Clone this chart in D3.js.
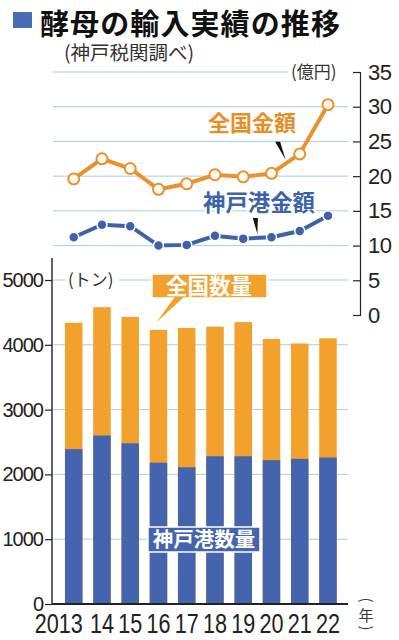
<!DOCTYPE html>
<html>
<head>
<meta charset="utf-8">
<script src="https://cdn.jsdelivr.net/npm/d3@7"></script>
<style>
    html, body { margin: 0; padding: 0; background: #fff; }
    svg { display: block; }
</style>
</head>
<body>
<svg id="chart"></svg>
<script>

const years = ['2013', '14', '15', '16', '17', '18', '19', '20', '21', '22']
const nationalAmount = [19.6, 22.5, 21.1, 18.1, 18.9, 20.2, 19.9, 20.4, 23.2, 30.3]
const kobeAmount = [11.2, 13.0, 12.8, 10.0, 10.1, 11.4, 11.0, 11.2, 12.1, 14.3]
const nationalQty = [4340, 4580, 4430, 4230, 4260, 4280, 4350, 4090, 4020, 4100]
const kobeQty = [2390, 2600, 2480, 2180, 2110, 2280, 2280, 2220, 2240, 2260]
const qtyTicks = [0, 1000, 2000, 3000, 4000, 5000]
const amountTicks = [0, 5, 10, 15, 20, 25, 30, 35]

const fullWidth = 399
const fullHeight = 640
const orange = '#f1a12c'
const orangeLine = '#e8912d'
const orangeText = '#e88d26'
const blue = '#4464ad'
const blueLine = '#3e62a9'
const gridColor = '#a6cfe0'
const jp = '"Noto Sans CJK JP", sans-serif'
const num = 'Liberation Sans, Arial, sans-serif'

const left = 52
const right = 360
const gridEnd = 348

const svg = d3.select('#chart')
    .attr('width', fullWidth)
    .attr('height', fullHeight)

const xScale = d3.scaleBand()
    .domain(years)
    .range([59.6, 342.1])
    .paddingInner(0.38)
    .paddingOuter(0.19)
const cx = d => xScale(d) + xScale.bandwidth() / 2

const yQty = d3.scaleLinear()
    .domain([0, 5000])
    .range([604, 280])

const yAmt = d3.scaleLinear()
    .domain([0, 35])
    .range([315, 72])

// title
svg.append('rect')
    .attr('x', 13).attr('y', 12)
    .attr('width', 19).attr('height', 16)
    .attr('fill', '#4a6bb5')

svg.append('text')
    .attr('x', 40).attr('y', 34.5)
    .attr('font-family', jp)
    .attr('font-weight', 700)
    .attr('font-size', 29)
    .attr('letter-spacing', 1.1)
    .attr('fill', '#111')
    .text('酵母の輸入実績の推移')

svg.append('text')
    .attr('x', 64).attr('y', 60)
    .attr('font-family', jp)
    .attr('font-size', 19.5)
    .attr('fill', '#333')
    .text('(神戸税関調べ)')

// gridlines
const grid = svg.append('g')
    .attr('stroke', gridColor)
    .attr('stroke-width', 1)

grid.selectAll('line.amt')
    .data(amountTicks.filter(t => t >= 10))
    .enter().append('line')
        .attr('class', 'amt')
        .attr('x1', left + 1).attr('x2', gridEnd)
        .attr('y1', d => yAmt(d)).attr('y2', d => yAmt(d))

grid.selectAll('line.qty')
    .data(qtyTicks.filter(t => t > 0))
    .enter().append('line')
        .attr('class', 'qty')
        .attr('x1', left + 1).attr('x2', gridEnd)
        .attr('y1', d => yQty(d)).attr('y2', d => yQty(d))

// unit labels with white backing
const unitLabel = (x, y, w, str) => {
    svg.append('rect')
        .attr('x', x - 3).attr('y', y - 12)
        .attr('width', w).attr('height', 22)
        .attr('fill', '#fff')
    svg.append('text')
        .attr('x', x).attr('y', y + 6)
        .attr('font-family', jp)
        .attr('font-size', 17)
        .attr('fill', '#333')
        .text(str)
}
unitLabel(68, yQty(5000), 54, '(トン)')
unitLabel(291, yAmt(35), 62, '(億円)')

// bars
svg.append('g')
    .selectAll('rect')
    .data(years)
    .enter().append('rect')
        .attr('fill', orange)
        .attr('x', d => xScale(d))
        .attr('width', xScale.bandwidth())
        .attr('y', (d, i) => yQty(nationalQty[i]))
        .attr('height', (d, i) => yQty(0) - yQty(nationalQty[i]))

svg.append('g')
    .selectAll('rect')
    .data(years)
    .enter().append('rect')
        .attr('fill', blue)
        .attr('x', d => xScale(d))
        .attr('width', xScale.bandwidth())
        .attr('y', (d, i) => yQty(kobeQty[i]))
        .attr('height', (d, i) => yQty(0) - yQty(kobeQty[i]))

// left axis
const yAxisLeft = d3.axisLeft(yQty)
    .tickValues(qtyTicks)
    .tickFormat(d3.format('d'))
    .tickSize(7)
    .tickSizeOuter(0)
    .tickPadding(2)

const leftAxis = svg.append('g')
    .attr('transform', `translate(${left},0)`)
    .call(yAxisLeft)
leftAxis.select('.domain').remove()
leftAxis.selectAll('line').attr('stroke', '#222').attr('stroke-width', 1.2)
leftAxis.selectAll('text')
    .attr('font-family', num)
    .attr('font-size', 20)
    .attr('fill', '#222')
    .attr('letter-spacing', -1)

svg.append('line')
    .attr('x1', left).attr('x2', left)
    .attr('y1', yQty(5000) - 22).attr('y2', yQty(0))
    .attr('stroke', '#222').attr('stroke-width', 1.4)

// baseline
svg.append('line')
    .attr('x1', left).attr('x2', gridEnd)
    .attr('y1', yQty(0)).attr('y2', yQty(0))
    .attr('stroke', '#222').attr('stroke-width', 2)

// x labels, condensed
svg.append('g')
    .selectAll('text')
    .data(years)
    .enter().append('text')
        .attr('transform', (d, i) => `translate(${i === 0 ? cx(d) + 9 : cx(d)},633) scale(0.8,1)`)
        .attr('text-anchor', (d, i) => i === 0 ? 'end' : 'middle')
        .attr('font-family', num)
        .attr('font-size', 27)
        .attr('fill', '#222')
        .text(d => d)

// (年) written vertically
const yearUnit = svg.append('g')
    .attr('font-family', jp)
    .attr('font-size', 15)
    .attr('fill', '#333')
    .attr('text-anchor', 'middle')
yearUnit.append('text')
    .attr('transform', 'translate(366,600) rotate(90)')
    .attr('dy', '0.35em')
    .text('(')
yearUnit.append('text')
    .attr('x', 366).attr('y', 621)
    .text('年')
yearUnit.append('text')
    .attr('transform', 'translate(366,628) rotate(90)')
    .attr('dy', '0.35em')
    .text(')')

// right axis
const yAxisRight = d3.axisRight(yAmt)
    .tickValues(amountTicks)
    .tickSize(-7)
    .tickSizeOuter(-7)
    .tickPadding(8)

const rightAxis = svg.append('g')
    .attr('transform', `translate(${right},0)`)
    .call(yAxisRight)
rightAxis.selectAll('line, path').attr('stroke', '#222').attr('stroke-width', 1.2)
rightAxis.selectAll('text')
    .attr('font-family', num)
    .attr('font-size', 22)
    .attr('fill', '#222')
    .attr('letter-spacing', -0.5)

// lines
const line = series => d3.line()
    .x((d, i) => cx(years[i]))
    .y(d => yAmt(d))(series)

svg.append('path')
    .attr('d', line(kobeAmount))
    .attr('fill', 'none')
    .attr('stroke', blueLine)
    .attr('stroke-width', 4)

svg.append('g')
    .selectAll('circle')
    .data(kobeAmount)
    .enter().append('circle')
        .attr('cx', (d, i) => cx(years[i]))
        .attr('cy', d => yAmt(d))
        .attr('r', 5)
        .attr('fill', blueLine)
        .attr('stroke', '#fff')
        .attr('stroke-width', 1.5)

svg.append('path')
    .attr('d', line(nationalAmount))
    .attr('fill', 'none')
    .attr('stroke', orangeLine)
    .attr('stroke-width', 4)

svg.append('g')
    .selectAll('circle')
    .data(nationalAmount)
    .enter().append('circle')
        .attr('cx', (d, i) => cx(years[i]))
        .attr('cy', d => yAmt(d))
        .attr('r', 5.5)
        .attr('fill', '#fffaf0')
        .attr('stroke', orangeLine)
        .attr('stroke-width', 2)

// line labels and pointers
const pointer = (i, series, dx, dy) => {
    const t = 0.5
    const px = cx(years[i]) + (cx(years[i + 1]) - cx(years[i])) * t
    const py = yAmt(series[i]) + (yAmt(series[i + 1]) - yAmt(series[i])) * t - 4
    svg.append('path')
        .attr('d', `M${px},${py} L${px + dx - 2.5},${py + dy} L${px + dx + 2.5},${py + dy} Z`)
        .attr('fill', '#111')
}
pointer(7, nationalAmount, -8, -18)
pointer(6, kobeAmount, -2, -16)

svg.append('text')
    .attr('x', 208).attr('y', 131)
    .attr('font-family', jp)
    .attr('font-weight', 700)
    .attr('font-size', 22)
    .attr('fill', orangeText)
    .attr('stroke', '#fff').attr('stroke-width', 4)
    .attr('paint-order', 'stroke')
    .text('全国金額')

svg.append('text')
    .attr('x', 203).attr('y', 211)
    .attr('font-family', jp)
    .attr('font-weight', 700)
    .attr('font-size', 22.4)
    .attr('fill', blueLine)
    .attr('stroke', '#fff').attr('stroke-width', 4)
    .attr('paint-order', 'stroke')
    .text('神戸港金額')

// bar callouts
const tipX = cx(years[3]) - 7
const tipY = yQty(nationalQty[3]) - 2
svg.append('path')
    .attr('d', `M152,274 H267 V298 H184 L${tipX},${tipY} L173,298 H152 Z`)
    .attr('fill', orange)
    .attr('stroke', '#fff')
    .attr('stroke-width', 1.5)

svg.append('text')
    .attr('x', 209).attr('y', 294)
    .attr('text-anchor', 'middle')
    .attr('font-family', jp)
    .attr('font-weight', 700)
    .attr('font-size', 21.5)
    .attr('fill', '#fff')
    .text('全国数量')

svg.append('rect')
    .attr('x', 148).attr('y', 527)
    .attr('width', 112).attr('height', 25)
    .attr('fill', blue)
    .attr('stroke', '#fff')
    .attr('stroke-width', 1.5)

svg.append('text')
    .attr('x', 204).attr('y', 547)
    .attr('text-anchor', 'middle')
    .attr('font-family', jp)
    .attr('font-weight', 700)
    .attr('font-size', 20.5)
    .attr('fill', '#fff')
    .text('神戸港数量')

</script>
</body>
</html>
